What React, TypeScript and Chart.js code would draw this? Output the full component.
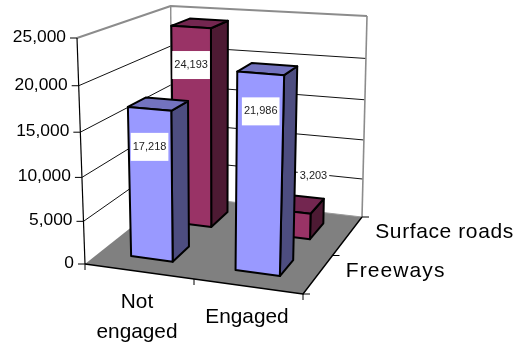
import React, { useEffect, useRef } from "react";
import { Chart, registerables } from "chart.js";

Chart.register(...registerables);

const categories: (string | string[])[] = [["Not", "engaged"], "Engaged"];
const seriesNames = ["Freeways", "Surface roads"];
const freeways = [17218, 21986];
const surfaceRoads = [24193, 3203];
const tickMax = 25000;
const tickStep = 5000;

const FONT = "'Liberation Sans', Arial, sans-serif";

// 3D box of the plot, as photographed: [x, y] of the eight corners
const FLB = [85, 264], FRB = [303, 294], BLB = [172, 195], BRB = [362, 217];
const FLT = [77, 38], FRT = [310.5, 55], BLT = [170.7, 6], BRT = [367, 16];

const lerp = (a: number, b: number, t: number) => a + (b - a) * t;
const bi = (a: number[], b: number[], c: number[], d: number[], u: number, w: number) => [
  lerp(lerp(a[0], b[0], u), lerp(c[0], d[0], u), w),
  lerp(lerp(a[1], b[1], u), lerp(c[1], d[1], u), w),
];
const project = (u: number, w: number, v: number) => {
  const base = bi(FLB, FRB, BLB, BRB, u, w);
  const top = bi(FLT, FRT, BLT, BRT, u, w);
  const t = v - 0.07 * v * (1 - v);
  return [lerp(base[0], top[0], t), lerp(base[1], top[1], t)];
};

const faces = [
  { front: "#9999FF", top: "#7373BF", side: "#4D4D80" },
  { front: "#993366", top: "#732650", side: "#4D1A33" },
];
const depthCentre = [0.28, 0.765];
const depthHalf = 0.105;
// small perspective corrections of each bar's left and right edge
const edgeNudge = [
  [[-0.005, -0.01], [-0.015, -0.007]],
  [[0.005, -0.005], [0, -0.01]],
];
const labelShift = (ds: number, i: number) => (ds === 1 && i === 1 ? [22, -36] : [0, 38]);

const poly = (c: CanvasRenderingContext2D, pts: number[][], fill?: string | null, stroke?: string | null, lw = 1) => {
  c.beginPath();
  pts.forEach((p, i) => (i ? c.lineTo(p[0], p[1]) : c.moveTo(p[0], p[1])));
  if (fill) {
    c.closePath();
    c.fillStyle = fill;
    c.fill();
  }
  if (stroke) {
    c.strokeStyle = stroke;
    c.lineWidth = lw;
    c.stroke();
  }
};

const box3d = {
  id: "box3d",
  afterDatasetsDraw(chart: any) {
    const c: CanvasRenderingContext2D = chart.ctx;
    const area = chart.chartArea;
    const yScale = chart.scales.y;
    const xScale = chart.scales.x;
    c.save();
    c.lineJoin = "round";

    // walls and floor
    poly(c, [FLB, FRB, BRB, BLB], "#808080");
    const grey = "#8C8C8C";
    const vOf = (val: number) => (area.bottom - yScale.getPixelForValue(val)) / area.height;

    yScale.ticks.forEach((t: any) => {
      const v = vOf(t.value);
      if (t.value > 0 && t.value < tickMax) {
        poly(c, [project(0, 0, v), project(0, 1, v), project(1, 1, v)], null, "#111111", 1);
      }
    });
    poly(c, [FLT, BLT, BRT], null, grey, 2);
    poly(c, [BRT, BRB], null, grey, 1.6);
    poly(c, [BLT, BLB], null, grey, 1.4);
    poly(c, [BLB, BRB], null, "#9A9A9A", 1);

    // axes
    poly(c, [FLT, FLB], null, "#000", 1.2);
    poly(c, [FLB, FRB, BRB], null, "#000", 1.4);

    c.fillStyle = "#000";
    c.textBaseline = "middle";
    c.textAlign = "right";
    c.font = `17.4px ${FONT}`;
    yScale.ticks.forEach((t: any) => {
      const p = project(0, 0, vOf(t.value));
      poly(c, [p, [p[0] - 7, p[1]]], null, "#000", 1);
      c.fillStyle = "#000";
      c.fillText(t.label, p[0] - 11, p[1] - 1);
    });

    [0, 0.5, 1].forEach((u) => {
      const p = project(u, 0, 0);
      poly(c, [p, [p[0], p[1] + 6]], null, "#000", 1);
      const q = project(1, u, 0);
      poly(c, [q, [q[0] + 7, q[1]]], null, "#000", 1);
    });

    // bars, back row first
    const labels: any[] = [];
    [1, 0].forEach((ds) => {
      const meta = chart.getDatasetMeta(ds);
      const f = faces[ds];
      meta.data.forEach((bar: any, i: number) => {
        const uc = (bar.x - area.left) / area.width;
        const ud = bar.width / 2 / area.width;
        const u0 = uc - ud + edgeNudge[ds][i][0], u1 = uc + ud + edgeNudge[ds][i][1];
        const w0 = depthCentre[ds] - depthHalf, w1 = depthCentre[ds] + depthHalf;
        const v = (area.bottom - bar.y) / area.height;
        const a = project(u0, w0, 0), b = project(u1, w0, 0), d = project(u1, w1, 0);
        const at = project(u0, w0, v), bt = project(u1, w0, v), dt = project(u1, w1, v), ct = project(u0, w1, v);
        poly(c, [b, d, dt, bt, b], f.side, "#000", 2);
        poly(c, [at, bt, dt, ct, at], f.top, "#000", 2);
        poly(c, [a, b, bt, at, a], f.front, "#000", 2);
        const val = chart.data.datasets[ds].data[i];
        const s = labelShift(ds, i);
        labels.push({ text: val.toLocaleString("en-US"), x: (at[0] + bt[0]) / 2 + s[0], y: (at[1] + bt[1]) / 2 + s[1] });
      });
    });

    // data labels
    c.font = `11px ${FONT}`;
    c.textAlign = "center";
    labels.forEach((l) => {
      const w = c.measureText(l.text).width + 4;
      c.fillStyle = "#fff";
      c.fillRect(l.x - w / 2, l.y - 14, w, 28);
      c.fillStyle = "#222";
      c.fillText(l.text, l.x, l.y);
    });

    // category labels
    c.fillStyle = "#000";
    c.font = `20.8px ${FONT}`;
    c.textAlign = "center";
    xScale.ticks.forEach((t: any, i: number) => {
      const lines: string[] = Array.isArray(t.label) ? t.label : [t.label];
      const px = xScale.getPixelForTick(i);
      const cy = 317;
      lines.forEach((ln, k) => c.fillText(ln, px, cy + (k - (lines.length - 1) / 2) * 30));
    });

    // depth axis labels
    c.textAlign = "left";
    c.font = `21px ${FONT}`;
    seriesNames.forEach((n, i) => {
      (c as any).letterSpacing = i ? "0.6px" : "1.1px";
      const p = project(1, i ? 0.75 : 0.25, 0);
      c.fillText(n, p[0] + 28, p[1] - 4);
    });
    (c as any).letterSpacing = "0px";
    c.restore();
  },
};

export default function App() {
  const ref = useRef<HTMLCanvasElement>(null);
  useEffect(() => {
    const chart = new Chart(ref.current!, {
      type: "bar",
      data: {
        labels: categories as any,
        datasets: [
          { label: seriesNames[0], data: freeways, backgroundColor: "rgba(0,0,0,0)" },
          { label: seriesNames[1], data: surfaceRoads, backgroundColor: "rgba(0,0,0,0)" },
        ],
      },
      options: {
        responsive: false,
        animation: false,
        layout: { padding: { left: 82, top: 38, right: 214, bottom: 83 } },
        datasets: { bar: { grouped: false, barPercentage: 0.4, categoryPercentage: 1 } },
        plugins: { legend: { display: false }, tooltip: { enabled: false } },
        scales: {
          x: { display: false },
          y: { display: false, min: 0, max: tickMax, ticks: { stepSize: tickStep } },
        },
      } as any,
      plugins: [box3d],
    });
    return () => chart.destroy();
  }, []);
  return (
    <div style={{ position: "fixed", left: 0, top: 0, width: 516, height: 347, background: "#fff" }}>
      <canvas ref={ref} width={516} height={347} style={{ display: "block" }} />
    </div>
  );
}
